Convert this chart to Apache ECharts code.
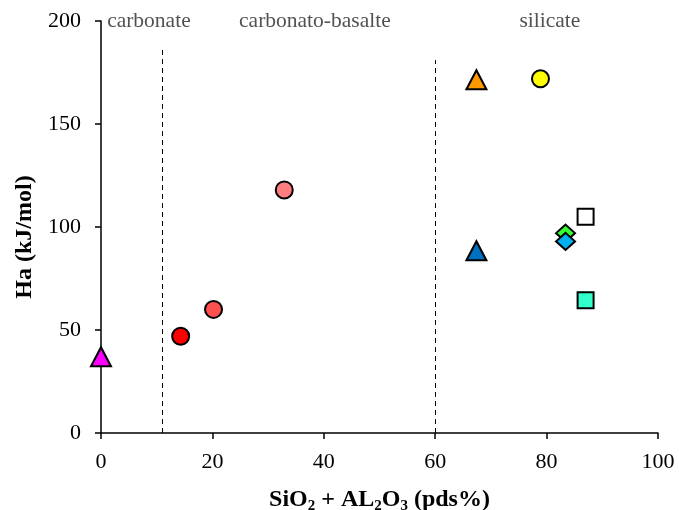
<!DOCTYPE html>
<html style="height: 100%">
<head>
    <meta charset="UTF-8">
    <title>Ha vs SiO2 + Al2O3</title>
    <script src="https://cdn.jsdelivr.net/npm/echarts@6/dist/echarts.min.js"></script>
    <style>
        #main { width: 679px; height: 510px; }
    </style>
</head>
<body style="margin: 0; padding: 0; background: #fff;">
    <div id="main"></div>
    <script>
        // 数据: 每个点 [SiO2+Al2O3, Ha]
        var pointNames = ['p1', 'p2', 'p3', 'p4', 'p5', 'p6', 'p7', 'p8', 'p9', 'p10', 'p11'];
        var xValues = [0, 14.3, 20.2, 32.9, 67.4, 78.9, 67.4, 83.4, 83.4, 87.0, 87.0];
        var yValues = [37, 47, 60, 118, 171.5, 172, 88.5, 97, 93, 105, 64.5];
        var symbols = ['triangle', 'circle', 'circle', 'circle', 'triangle', 'circle', 'triangle', 'diamond', 'diamond', 'rect', 'rect'];
        var colors = ['#FF00FF', '#FF0000', '#FF5050', '#FF7C80', '#FF9900', '#FFFF00', '#0070C0', '#33FF33', '#00B0F0', '#FFFFFF', '#33FFCC'];

        // 区域分界线与标注
        var boundaries = [11, 60];
        var boundaryTops = [187, 181];
        var zoneNames = ['carbonate', 'carbonato-basalte', 'silicate'];
        var zoneX = [8.6, 38.4, 80.6];
        var zoneY = 200;

        var xTicks = { min: 0, max: 100, interval: 20 };
        var yTicks = { min: 0, max: 200, interval: 50 };

        var font = 'Liberation Serif, Times New Roman, serif';

        function symbolSizeFor(sym) {
            if (sym === 'triangle') return [20, 19];
            if (sym === 'diamond') return [19, 17];
            if (sym === 'rect') return 16;
            return 17;
        }

        var pointSeries = pointNames.map(function (name, i) {
            return {
                name: name,
                type: 'scatter',
                symbol: symbols[i],
                symbolSize: symbolSizeFor(symbols[i]),
                itemStyle: { color: colors[i], borderColor: '#000', borderWidth: 2, opacity: 1 },
                data: [[xValues[i], yValues[i]]],
                z: 3
            };
        });

        var lineSeries = {
            type: 'scatter',
            data: [],
            silent: true,
            markLine: {
                symbol: 'none',
                silent: true,
                label: { show: false },
                lineStyle: { color: '#000', type: [5, 4], width: 1 },
                data: boundaries.map(function (b, i) {
                    return [{ coord: [b, 0] }, { coord: [b, boundaryTops[i]] }];
                })
            }
        };

        var labelSeries = {
            type: 'scatter',
            symbolSize: 0,
            silent: true,
            data: zoneNames.map(function (n, i) {
                return { value: [zoneX[i], zoneY], name: n };
            }),
            label: {
                show: true,
                position: 'inside',
                formatter: '{b}',
                color: '#262626',
                fontFamily: font,
                fontSize: 21.5
            }
        };

        var option = {
            backgroundColor: '#fff',
            animation: false,
            grid: { left: 101, right: 21, top: 21, bottom: 77, outerBoundsMode: 'none', containLabel: false },
            xAxis: {
                type: 'value',
                min: xTicks.min, max: xTicks.max, interval: xTicks.interval,
                name: '{b|SiO}{s|2}{b| + AL}{s|2}{b|O}{s|3}{b| (pds%)}',
                nameLocation: 'middle',
                nameGap: 52,
                nameTextStyle: {
                    rich: {
                        b: { fontFamily: font, fontWeight: 'bold', fontSize: 24, color: '#000' },
                        s: { fontFamily: font, fontWeight: 'bold', fontSize: 15, color: '#000', verticalAlign: 'bottom', padding: [14, 0, 0, 0] }
                    }
                },
                axisLine: { lineStyle: { color: '#000', width: 1.5 } },
                axisTick: { show: true, length: 6, lineStyle: { color: '#000', width: 1.5 } },
                axisLabel: { color: '#000', fontFamily: font, fontSize: 22, margin: 18, showMaxLabel: true },
                splitLine: { show: false }
            },
            yAxis: {
                type: 'value',
                min: yTicks.min, max: yTicks.max, interval: yTicks.interval,
                name: 'Ha (kJ/mol)',
                nameLocation: 'middle',
                nameGap: 60,
                nameTextStyle: { fontFamily: font, fontWeight: 'bold', fontSize: 24, color: '#000', padding: [0, 20, 0, 0] },
                axisLine: { show: true, lineStyle: { color: '#000', width: 1.5 } },
                axisTick: { show: true, length: 6, lineStyle: { color: '#000', width: 1.5 } },
                axisLabel: { color: '#000', fontFamily: font, fontSize: 22, margin: 20 },
                splitLine: { show: false }
            },
            series: [lineSeries, labelSeries].concat(pointSeries)
        };

        var chart = echarts.init(document.getElementById('main'));
        chart.setOption(option);
    </script>
</body>
</html>
